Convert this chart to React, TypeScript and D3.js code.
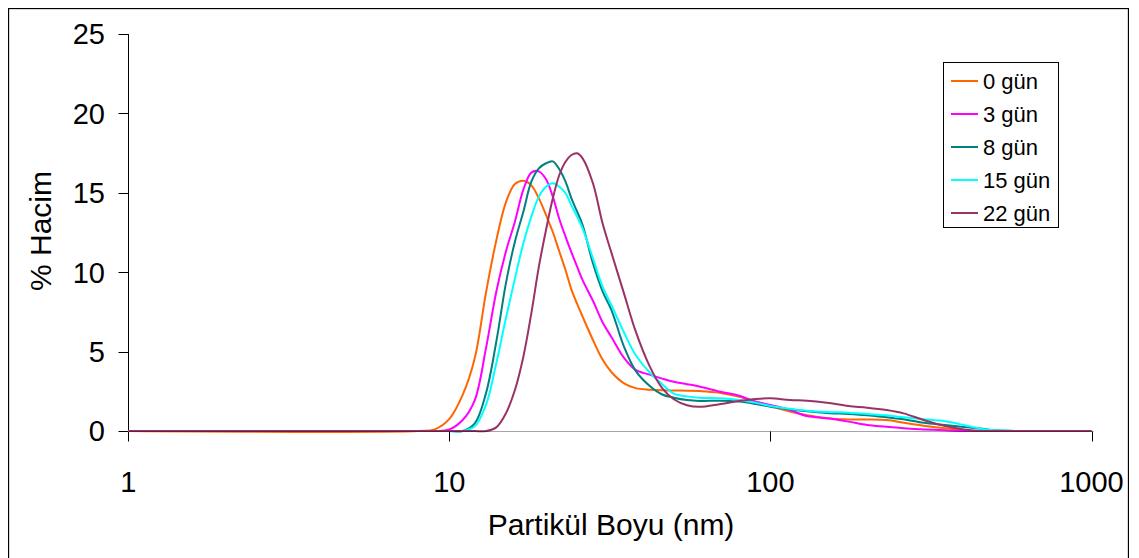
import React from "react";
import * as d3 from "d3";

const width = 1121;
const height = 560;

// particle size (nm) grid shared by every series
const sizes = [1, 8, 9, 10, 11, 12, 13, 14, 15, 16, 17, 18, 19, 20, 21, 22, 23, 24, 25, 26, 28, 30, 32, 35, 38, 42, 46, 50, 55, 60, 70, 80, 90, 100, 115, 130, 150, 175, 200, 230, 260, 300, 350, 400, 450, 500, 600, 1000];

const day0 = [0, 0, 0.1, 0.76, 2.27, 4.6, 8.7, 12.0, 14.4, 15.55, 15.76, 15.47, 14.65, 13.6, 12.53, 11.3, 10.14, 8.9, 8.0, 7.2, 5.73, 4.5, 3.7, 3.0, 2.7, 2.6, 2.56, 2.55, 2.54, 2.52, 2.4, 2.15, 1.85, 1.57, 1.22, 1.0, 0.8, 0.73, 0.73, 0.69, 0.52, 0.33, 0.17, 0.06, 0, 0, 0, 0];
const day3 = [0, 0, 0, 0.1, 0.69, 1.95, 5.2, 8.77, 11.3, 13.18, 15.2, 16.27, 16.35, 15.85, 14.76, 13.35, 12.24, 11.25, 10.35, 9.5, 8.2, 6.85, 5.9, 4.6, 3.85, 3.55, 3.3, 3.1, 2.95, 2.8, 2.47, 2.22, 1.85, 1.64, 1.32, 0.94, 0.8, 0.59, 0.38, 0.27, 0.17, 0.1, 0.04, 0, 0, 0, 0, 0];
const day8 = [0, 0, 0, 0, 0, 0.48, 2.37, 5.62, 9.3, 11.92, 13.81, 15.7, 16.54, 16.86, 16.98, 16.48, 15.7, 14.65, 13.81, 12.97, 10.56, 8.8, 7.6, 5.3, 3.8, 2.85, 2.3, 2.1, 1.95, 1.89, 1.91, 1.85, 1.7, 1.53, 1.37, 1.24, 1.13, 1.07, 0.99, 0.86, 0.74, 0.52, 0.38, 0.25, 0.15, 0.04, 0, 0];
const day15 = [0, 0, 0, 0, 0, 0.3, 1.64, 4.26, 7.1, 9.6, 11.82, 13.5, 14.76, 15.38, 15.6, 15.38, 14.97, 14.21, 13.5, 12.76, 10.87, 9.09, 7.9, 6.2, 4.8, 3.7, 2.95, 2.35, 2.18, 2.1, 2.06, 1.95, 1.78, 1.57, 1.4, 1.28, 1.2, 1.15, 1.07, 0.99, 0.86, 0.74, 0.61, 0.38, 0.15, 0.04, 0, 0];
const day22 = [0, 0, 0, 0, 0, 0, 0, 0.23, 1.11, 2.58, 4.68, 7.41, 10.35, 12.66, 14.65, 16.12, 16.96, 17.38, 17.49, 17.17, 15.6, 13.08, 11.2, 8.65, 6.3, 4.1, 2.7, 2.0, 1.62, 1.52, 1.7, 1.89, 2.02, 2.06, 1.95, 1.91, 1.78, 1.57, 1.47, 1.32, 1.11, 0.69, 0.31, 0.1, 0, 0, 0, 0];

const seriesNames = ["0 gün", "3 gün", "8 gün", "15 gün", "22 gün"];
const seriesValues = [day0, day3, day8, day15, day22];
const colors = ["#FF6600", "#FF00FF", "#008080", "#00FFFF", "#993366"];

const xTicks = [1, 10, 100, 1000];
const yTicks = [0, 5, 10, 15, 20, 25];

const font = "'Liberation Sans', Arial, sans-serif";

export default function App() {
  const x = d3.scaleLog().domain([1, 1000]).range([120.3, 1083.5]);
  const y = d3.scaleLinear().domain([0, 25]).range([423, 26]);

  const line = d3
    .line<number>()
    .x((_, i) => x(sizes[i]))
    .y((d) => y(d))
    .curve(d3.curveCatmullRom.alpha(0.5));

  const axisX = 120.5;
  const axisY = 423.5;

  return (
    <div style={{ position: "fixed", inset: 0, overflow: "hidden" }}>
      <svg
        width={width}
        height={height}
        style={{ position: "absolute", left: 8, top: 8, background: "#fff" }}
        fontFamily={font}
      >
        <rect x={0.5} y={0.5} width={width - 1} height={height + 10} fill="#fff" stroke="#000" strokeWidth={1.3} />

        {/* y axis */}
        <line x1={axisX} x2={axisX} y1={y(25)} y2={axisY} stroke="#000" />
        {yTicks.map((t) => (
          <g key={t}>
            <line x1={axisX - 10} x2={axisX} y1={Math.round(y(t)) + 0.5} y2={Math.round(y(t)) + 0.5} stroke="#000" />
            <text x={97} y={y(t)} dy="0.36em" textAnchor="end" fontSize={29}>
              {t}
            </text>
          </g>
        ))}

        {/* x axis */}
        {xTicks.map((t) => (
          <g key={t}>
            <line x1={Math.round(x(t)) + 0.5} x2={Math.round(x(t)) + 0.5} y1={axisY} y2={axisY + 10} stroke="#000" />
            <text x={x(t)} y={484} textAnchor="middle" fontSize={29}>
              {t}
            </text>
          </g>
        ))}

        {seriesValues.map((vals, i) => (
          <path key={seriesNames[i]} d={line(vals) || ""} fill="none" stroke={colors[i]} strokeWidth={2} />
        ))}
        <line x1={axisX} x2={x(1000) + 2} y1={axisY} y2={axisY} stroke="#000" strokeOpacity={0.35} />

        <text x={603} y={527} textAnchor="middle" fontSize={30}>
          Partikül Boyu (nm)
        </text>
        <text transform="translate(43,223) rotate(-90)" textAnchor="middle" fontSize={30}>
          % Hacim
        </text>

        {/* legend */}
        <rect x={935.5} y={54.5} width={115} height={165} fill="#fff" stroke="#000" />
        {seriesNames.map((name, i) => {
          const ly = 73 + i * 33;
          return (
            <g key={name}>
              <line x1={943} x2={970} y1={ly} y2={ly} stroke={colors[i]} strokeWidth={2} />
              <text x={975} y={ly} dy="0.36em" fontSize={22}>
                {name}
              </text>
            </g>
          );
        })}
      </svg>
    </div>
  );
}
